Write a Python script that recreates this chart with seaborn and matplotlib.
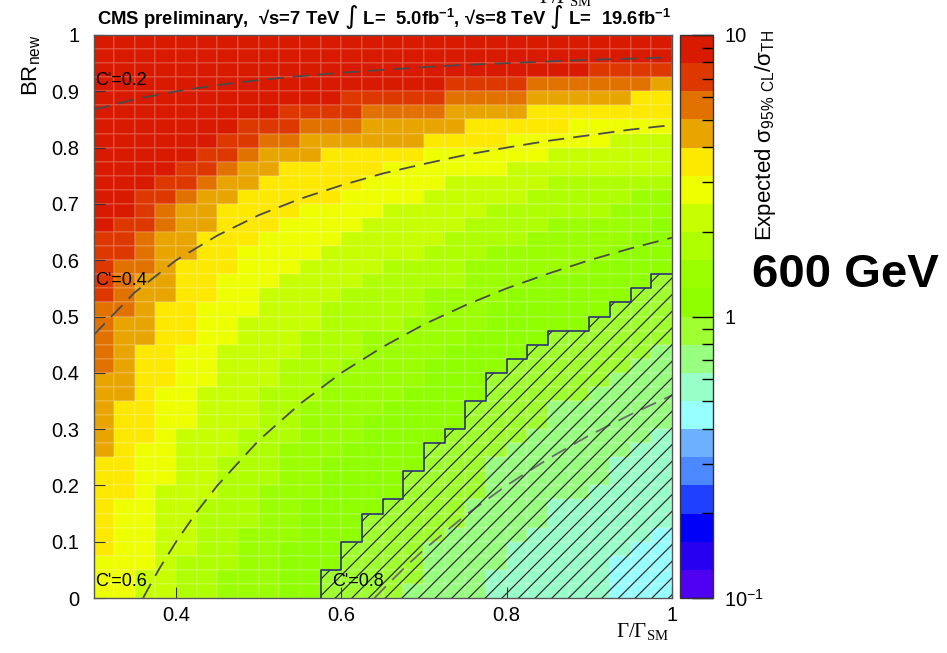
import numpy as np
import pandas as pd
import matplotlib
matplotlib.use("Agg")
import matplotlib.pyplot as plt
import seaborn as sns
from matplotlib.colors import ListedColormap, LogNorm
from matplotlib.patches import Polygon

plt.rcParams['font.family'] = ['Liberation Sans', 'DejaVu Sans']
plt.rcParams['hatch.linewidth'] = 0.9

# bins: Γ/Γ_SM from 0.3 to 1 (28 bins), BR_new from 0 to 1 (40 bins)
width_edges = np.round(np.arange(0.3, 1.0001, 0.025), 4)
br_edges = np.round(np.arange(0.0, 1.0001, 0.025), 4)

# for each Γ bin: first BR bin (counted from the bottom) where the
# expected ratio reaches the next 0.1-decade colour step (10^(k/10))
start_m3 = [0] * 25 + [3, 4, 5]
start_m2 = [0] * 19 + [2, 4, 5, 7, 7, 8, 10, 11, 12]
start_m1 = [0] * 15 + [1, 4, 5, 7, 10, 11, 12, 14, 14, 15, 16, 17, 18]
start_0 = [0] * 11 + [2, 4, 6, 7, 9, 11, 12, 14, 16, 17, 18, 19, 19, 20, 21, 22, 23]
start_1 = [0] * 9 + [4, 7, 10, 11, 13, 14, 15, 17, 18, 19, 21, 22, 23, 23, 23, 24, 25, 26, 27]
start_2 = [0] * 6 + [2, 5, 8, 11, 14, 16, 17, 19, 19, 20, 22, 22, 24, 25, 25, 26, 27, 27, 27, 28, 29, 29]
start_3 = [0, 0, 0, 0, 3, 7, 10, 12, 15, 17, 19, 21, 22, 23, 24, 24, 25, 26, 27, 28, 28, 29, 30, 30, 30, 30, 30, 30]
start_4 = [0, 0, 2, 8, 12, 15, 18, 20, 22, 23, 24, 25, 26, 27, 28, 28, 29, 30, 30, 30, 31, 31, 32, 32, 32, 33, 33, 33]
start_5 = [3, 7, 11, 15, 18, 21, 23, 25, 26, 27, 28, 28, 29, 30, 31, 31, 32, 32, 32, 32, 33, 33, 33, 34, 34, 34, 34, 34]
start_6 = [10, 14, 18, 21, 24, 26, 28, 29, 30, 31, 31, 32, 32, 32, 32, 32, 33, 33, 34, 34, 34, 35, 35, 35, 35, 35, 36, 36]
start_7 = [16, 20, 23, 26, 28, 29, 30, 31, 32, 32, 33, 33, 33, 34, 34, 34, 34, 35, 35, 35, 35, 36, 36, 36, 36, 36, 36, 37]
start_8 = [21, 24, 26, 28, 29, 30, 31, 32, 33, 33, 34, 34, 34, 35, 35, 35, 35, 36, 36, 36, 36, 37, 37, 37, 37, 37, 37, 37]
start_9 = [26, 27, 29, 30, 31, 32, 33, 34, 34, 35, 35, 35, 36, 36, 36, 36, 36, 37, 37, 37, 37, 37, 37, 37, 38, 38, 38, 38]

# C' contours
curve_x = [0.30, 0.35, 0.40, 0.45, 0.50, 0.55, 0.60, 0.65, 0.70, 0.75, 0.80, 0.85, 0.90, 0.95, 1.00]
c02_br = [0.867, 0.886, 0.900, 0.911, 0.920, 0.927, 0.933, 0.938, 0.943, 0.947, 0.950, 0.953, 0.956, 0.958, 0.960]
c04_br = [0.467, 0.543, 0.600, 0.644, 0.680, 0.709, 0.733, 0.754, 0.771, 0.787, 0.800, 0.812, 0.822, 0.832, 0.840]
c06_x = [0.36, 0.37, 0.38, 0.40, 0.425, 0.45, 0.50, 0.55, 0.60, 0.65, 0.70, 0.75, 0.80, 0.85, 0.90, 0.95, 1.00]
c06_br = [0.0, 0.027, 0.053, 0.100, 0.153, 0.200, 0.280, 0.345, 0.400, 0.446, 0.486, 0.520, 0.550, 0.576, 0.600, 0.621, 0.640]
c08_x = [0.64, 0.66, 0.68, 0.70, 0.75, 0.80, 0.85, 0.90, 0.95, 1.00]
c08_br = [0.0, 0.030, 0.059, 0.086, 0.147, 0.200, 0.247, 0.289, 0.326, 0.360]

# palette, 20 steps from 0.1 to 10
palette = ['#5000f0', '#2800f0', '#0000f8', '#2040ff', '#4c88ff', '#6cb0ff',
           '#98ffff', '#98ffc8', '#98ff80', '#a0ff30', '#90ff00', '#9cff00',
           '#b0ff00', '#c8ff00', '#eeff00', '#fde800', '#e8a500', '#e27200',
           '#dc3800', '#d81a00']

band_starts = [start_m3, start_m2, start_m1, start_0, start_1, start_2, start_3,
               start_4, start_5, start_6, start_7, start_8, start_9]
n_br, n_w = len(br_edges) - 1, len(width_edges) - 1
levels = np.full((n_br, n_w), -4)
for first_rows in band_starts:
    for col, first in enumerate(first_rows):
        levels[first:, col] += 1
ratio = 10 ** ((levels + 0.5) / 10)
br_centers = np.round((br_edges[:-1] + br_edges[1:]) / 2, 4)
w_centers = np.round((width_edges[:-1] + width_edges[1:]) / 2, 4)
table = pd.DataFrame(ratio[::-1], index=br_centers[::-1], columns=w_centers)

W, H = 947, 653
fig = plt.figure(figsize=(W / 100, H / 100), dpi=100)
rect = [93.5 / W, 55 / H, 578.5 / W, 563 / H]
ax = fig.add_axes(rect)
cax = fig.add_axes([680 / W, 55 / H, 33 / W, 563 / H])

sns.heatmap(table, ax=ax, cbar_ax=cax, cmap=ListedColormap(palette),
            norm=LogNorm(0.1, 10), xticklabels=False, yticklabels=False,
            linewidths=0.3, linecolor=(1, 1, 1, 0.12))
ax.set_xlabel('')
ax.set_ylabel('')

# overlay in physical coordinates
ov = fig.add_axes(rect)
ov.patch.set_alpha(0)
ov.set_xlim(0.3, 1.0)
ov.set_ylim(0.0, 1.0)

# excluded region (ratio < 1): hatched, with a step outline
sx, sy = [], []
for col, first in enumerate(start_0):
    if first == 0:
        continue
    sx += [width_edges[col], width_edges[col + 1]]
    sy += [br_edges[first], br_edges[first]]
verts = [(sx[0], 0.0)] + list(zip(sx, sy)) + [(width_edges[-1], 0.0)]
ov.add_patch(Polygon(verts, closed=True, facecolor='none', edgecolor='#303030',
                     hatch='//', linewidth=0, zorder=3))
ov.plot([sx[0]] + sx, [0.0] + sy, color='#2b3070', lw=1.2, zorder=4)

dash = (0, (9, 5))
for xs, ys in [(curve_x, c02_br), (curve_x, c04_br), (c06_x, c06_br)]:
    ov.plot(xs, ys, color='#4a4a4a', lw=1.3, linestyle=dash, zorder=2)
ov.plot(c08_x, c08_br, color='#6a6a6a', lw=1.3, linestyle=dash, zorder=2)

for x, y, s in [(0.302, 0.912, "C'=0.2"), (0.302, 0.556, "C'=0.4"),
                (0.302, 0.022, "C'=0.6"), (0.589, 0.022, "C'=0.8")]:
    ov.text(x, y, s, fontsize=13, va='baseline', ha='left', zorder=5)

ov.set_xticks([0.4, 0.6, 0.8, 1.0])
ov.set_xticklabels(['0.4', '0.6', '0.8', '1'])
ov.set_yticks(np.round(np.arange(0, 1.01, 0.1), 1))
ov.set_yticklabels(['0', '0.1', '0.2', '0.3', '0.4', '0.5', '0.6', '0.7', '0.8', '0.9', '1'])
ov.tick_params(axis='both', which='major', direction='in', length=8, width=0.8,
               labelsize=14.5, colors='#333333', labelcolor='black')
ov.tick_params(axis='x', pad=6)
ov.tick_params(axis='y', pad=10)
for sp in ov.spines.values():
    sp.set_linewidth(1.0)
    sp.set_color('#555555')

# colorbar
cb = ax.collections[0].colorbar
cb.outline.set_linewidth(1.0)
cb.outline.set_edgecolor('#333333')
cb.set_ticks([0.1, 1, 10])
cb.set_ticklabels(['10$^{\\mathregular{-1}}$', '1', '10'])
cb.minorticks_on()
cax.tick_params(which='major', direction='in', length=15, width=1, labelsize=14.5, pad=8)
cax.tick_params(which='minor', direction='in', length=8, width=1)

fig.text(765 / W, 1 - 30 / H, 'Expected σ$_{\\mathregular{95\\%\\ CL}}$/σ$_{\\mathregular{TH}}$',
         rotation=90, ha='center', va='top', fontsize=16)
fig.text(32 / W, 1 - 34 / H, 'BR$_{\\mathregular{new}}$', rotation=90,
         ha='center', va='top', fontsize=16)
fig.text(669 / W, 1 - 632 / H, 'Γ/Γ$_{\\mathregular{SM}}$', ha='right', va='center',
         fontsize=15, family=['Liberation Serif', 'DejaVu Serif'])
fig.text(752 / W, 1 - 287 / H, '600 GeV', fontsize=34, fontweight='bold',
         ha='left', va='baseline')
fig.text(97 / W, 1 - 24 / H,
         'CMS preliminary,  √s=7 TeV ∫ L=  5.0fb$^{\\mathregular{-1}}$, √s=8 TeV ∫ L=  19.6fb$^{\\mathregular{-1}}$',
         fontsize=13.3, fontweight='bold', ha='left', va='baseline')
fig.text(539 / W, 1 - 3 / H, 'Γ/Γ$_{\\mathregular{SM}}$', ha='left', va='baseline',
         fontsize=15, family=['Liberation Serif', 'DejaVu Serif'])

fig.savefig('out.png', dpi=100)
